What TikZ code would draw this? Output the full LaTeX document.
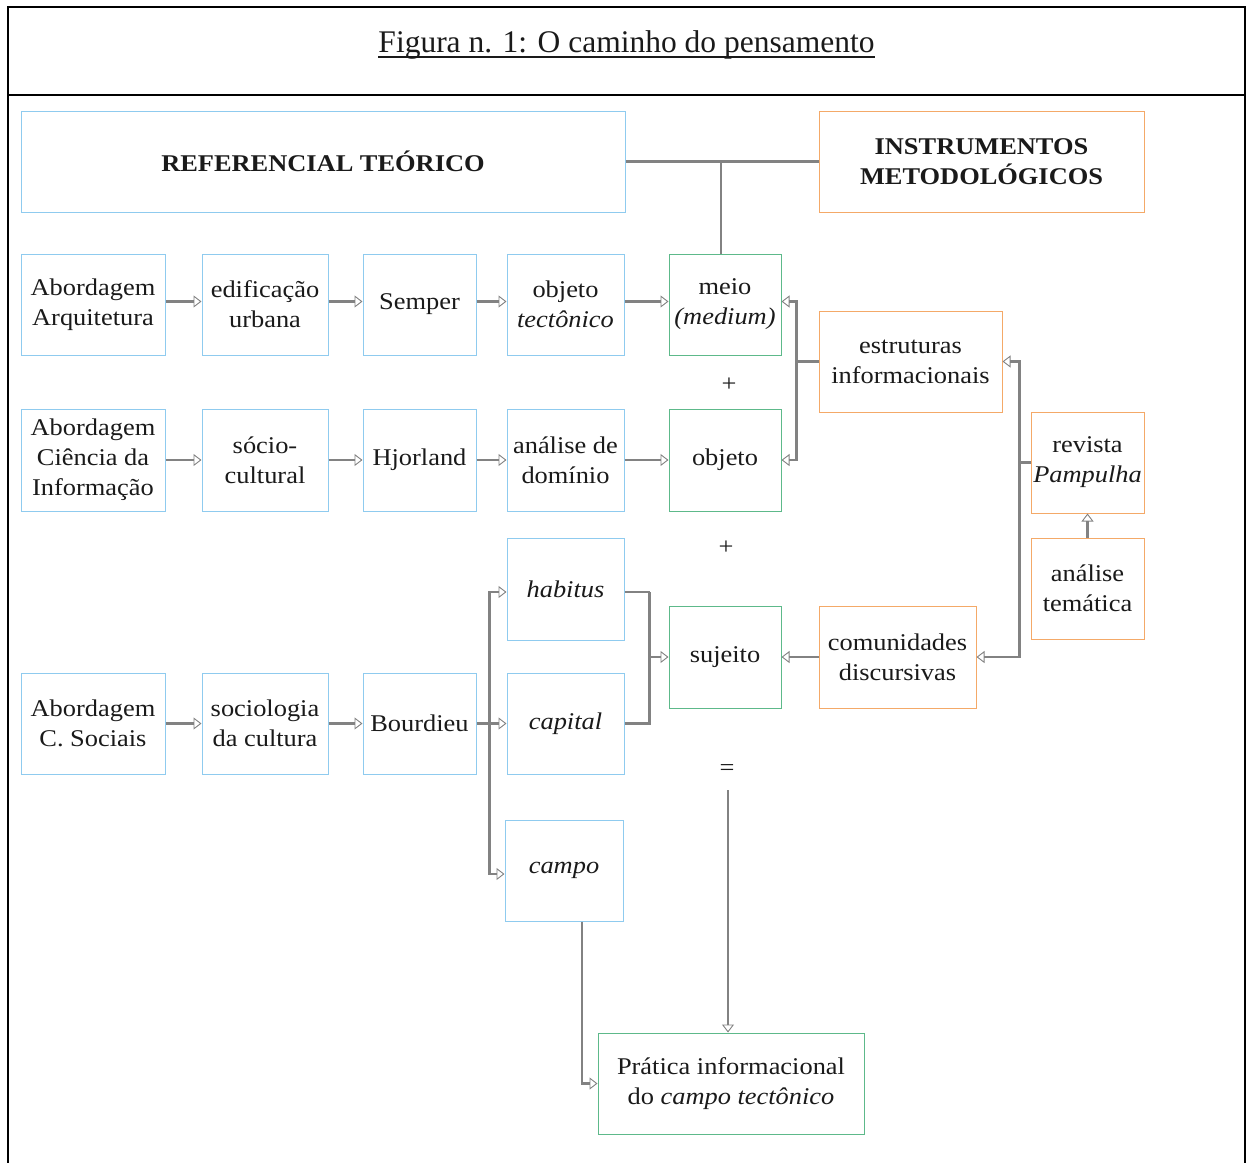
\documentclass[tikz,border=0pt]{standalone}
\usepackage{fontspec}
\setmainfont[FakeStretch=1.1]{Liberation Serif}
\newfontfamily\titlefont{Liberation Serif}
\usetikzlibrary{arrows.meta}
\definecolor{bl}{HTML}{8FCBEF}
\definecolor{og}{HTML}{F4A968}
\definecolor{gr}{HTML}{5DB98A}
\definecolor{ln}{HTML}{828282}
\definecolor{tx}{HTML}{1A1A1A}
\begin{document}
\begin{tikzpicture}[x=1pt,y=-1pt,
  every node/.style={text=tx,font=\fontsize{24}{30}\selectfont},
  boxbase/.style={draw,line width=1pt,fill=white,align=center,inner sep=0pt},
  bbox/.style={boxbase,draw=bl},
  obox/.style={boxbase,draw=og},
  gbox/.style={boxbase,draw=gr},
  lnk/.style={draw=ln,line width=2.2pt},
  arr/.style={draw=ln,line width=2.2pt,-{Triangle[open,length=8pt,width=12pt,line width=0.9pt]}}
]
\useasboundingbox (0,0) rectangle (1246,1162);
% frame
\draw[line width=2pt] (8,1163) -- (8,7) -- (1245,7) -- (1245,1163);
\draw[line width=2pt] (8,95) -- (1245,95);
\node[font=\titlefont\fontsize{31.5}{36}\selectfont,inner sep=0pt,anchor=base] (title) at (626.5,52) {Figura n. 1: O caminho do pensamento};
\draw[line width=1.6pt,tx] ([yshift=-5]title.base west) -- ([yshift=-5]title.base east);

% header boxes
\node[bbox,minimum width=604,minimum height=101] (ref) at (323,161.5) {\textbf{REFERENCIAL TEÓRICO}};
\node[obox,minimum width=325,minimum height=101] (inst) at (981.5,161.5) {\textbf{INSTRUMENTOS}\\\textbf{METODOLÓGICOS}};

% row 1
\node[bbox,minimum width=144,minimum height=101] (a1) at (93,304.5) {Abordagem\\Arquitetura};
\node[bbox,minimum width=126,minimum height=101] (a2) at (265,304.5) {edificação\\urbana};
\node[bbox,minimum width=113,minimum height=101] (a3) at (419.5,304.5) {Semper};
\node[bbox,minimum width=117,minimum height=101] (a4) at (565.5,304.5) {objeto\\\textit{tectônico}};
\node[gbox,minimum width=112,minimum height=101] (meio) at (725,304.5) {meio\\\textit{(medium)}};

% row 2
\node[bbox,minimum width=144,minimum height=102] (b1) at (93,460) {Abordagem\\Ciência da\\Informação};
\node[bbox,minimum width=126,minimum height=102] (b2) at (265,460) {sócio-\\cultural};
\node[bbox,minimum width=113,minimum height=102] (b3) at (419.5,460) {Hjorland};
\node[bbox,minimum width=117,minimum height=102] (b4) at (565.5,460) {análise de\\domínio};
\node[gbox,minimum width=112,minimum height=102] (obj) at (725,460) {objeto};

% right side
\node[obox,minimum width=183,minimum height=101] (estr) at (910.5,361.5) {estruturas\\informacionais};
\node[obox,minimum width=113,minimum height=101] (rev) at (1087.5,462.5) {revista\\\textit{Pampulha}};
\node[obox,minimum width=113,minimum height=101] (ana) at (1087.5,588.5) {análise\\temática};
\node[obox,minimum width=157,minimum height=102] (com) at (897.5,657) {comunidades\\discursivas};
\node[gbox,minimum width=112,minimum height=102] (suj) at (725,657) {sujeito};

% row 3
\node[bbox,minimum width=144,minimum height=101] (c1) at (93,723.5) {Abordagem\\C. Sociais};
\node[bbox,minimum width=126,minimum height=101] (c2) at (265,723.5) {sociologia\\da cultura};
\node[bbox,minimum width=113,minimum height=101] (c3) at (419.5,723.5) {Bourdieu};
\node[bbox,minimum width=117,minimum height=102] (hab) at (565.5,589) {\textit{habitus}};
\node[bbox,minimum width=117,minimum height=101] (cap) at (565.5,723.5) {\textit{capital}};
\node[bbox,minimum width=118,minimum height=101] (campo) at (564,870.5) {\textit{campo}};
\node[gbox,minimum width=266,minimum height=101] (prat) at (731,1083.5) {Prática informacional\\do \textit{campo tectônico}};

% operators
\node (plus1) at (729,385) {+};
\node (plus2) at (726,548) {+};
\node (eq) at (727,770) {=};
\coordinate (eqb) at (728,790);

% header connectors
\draw[lnk] (ref.east) -- (inst.west);
\draw[lnk] ([xshift=-4]meio.north) -- ([xshift=-4]meio.north |- ref.east);

% row arrows
\draw[arr] ([yshift=3]a1.east) -- ([yshift=3]a2.west);
\draw[arr] ([yshift=3]a2.east) -- ([yshift=3]a3.west);
\draw[arr] ([yshift=3]a3.east) -- ([yshift=3]a4.west);
\draw[arr] ([yshift=3]a4.east) -- ([yshift=3]meio.west);
\draw[arr] (b1.east) -- (b2.west);
\draw[arr] (b2.east) -- (b3.west);
\draw[arr] (b3.east) -- (b4.west);
\draw[arr] (b4.east) -- (obj.west);
\draw[arr] (c1.east) -- (c2.west);
\draw[arr] (c2.east) -- (c3.west);

% estruturas bracket
\draw[lnk] (estr.west) -- ++(-22,0) coordinate (e1);
\draw[arr] (e1) |- ([yshift=3]meio.east);
\draw[arr] (e1) |- (obj.east);

% revista bracket
\draw[lnk] (rev.west) -- ++(-11,0) coordinate (r1);
\draw[arr] (r1) |- (estr.east);
\draw[arr] (r1) |- (com.east);
\draw[arr] (ana.north) -- (rev.south);
\draw[arr] (com.west) -- (suj.east);

% Bourdieu bracket
\draw[lnk] (c3.east) -- ++(13,0) coordinate (bb);
\draw[arr] (bb) |- ([yshift=-3]hab.west);
\draw[arr] (bb) |- (cap.west);
\draw[arr] (bb) |- ([yshift=-3.5]campo.west);

% habitus/capital to sujeito
\draw[lnk] ([yshift=-3]hab.east) -- ++(25,0) coordinate (h1);
\draw[lnk] (cap.east) -| (h1);
\draw[arr] (h1 |- suj.west) -- (suj.west);

% to Pratica
\draw[arr] (eqb) -- (eqb |- prat.north);
\draw[arr] ([xshift=18]campo.south) |- (prat.west);
\end{tikzpicture}
\end{document}
